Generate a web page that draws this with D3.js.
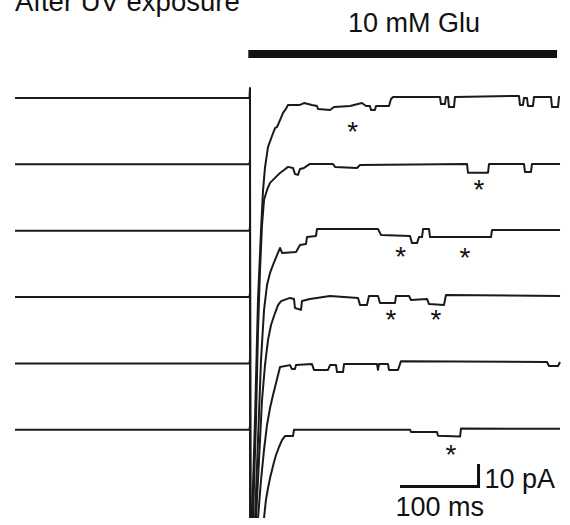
<!DOCTYPE html>
<html>
<head>
<meta charset="utf-8">
<title>After UV exposure</title>
<script src="https://cdn.jsdelivr.net/npm/d3@7"></script>
<style>
	body { margin: 0; background: #fff; }
	#chart { position: absolute; left: 0; top: 0; }
</style>
</head>
<body>
<svg id="chart" width="570" height="525"></svg>
<script>
// time in ms, current in pA (relative to each sweep's own baseline, inward = negative)
var trace1 = [[0,0],[304.5,0],[305.2,4.8],[305.8,-300],[307.8,-200],[311.7,-153],[315.6,-96],[319.5,-63],[322.1,-44],[324.7,-33],[328.6,-23.3],[333.8,-18.1],[337.7,-14.3],[340.3,-13.8],[344.2,-10.5],[348.1,-7.1],[351.9,-5.2],[354.5,-3.3],[370.1,-3.3],[375.3,-2.4],[385.7,-3.3],[392.2,-3.8],[393.5,-5.2],[409.1,-5.7],[414.3,-4.3],[435.1,-3.8],[450.6,-2.4],[455.8,-3.8],[461,-3.8],[462.3,-5.7],[467.5,-5.7],[468.8,-3.8],[485.7,-3.8],[488.3,-0.5],[490.9,0.5],[551.9,0.5],[553.2,-2.9],[558.4,-2.9],[559.7,0.5],[562.3,0.5],[563.6,-4.3],[570.1,-4.3],[571.4,0.5],[654.5,1],[655.8,-3.3],[659.7,-3.3],[661,0],[664.9,0],[666.2,-3.8],[672.7,-3.8],[674,0.5],[696.1,0.5],[697.4,-4.3],[705.2,-4.3],[706.5,0.5],[707.8,0.5]];
var trace2 = [[0,0],[304.5,0],[305.2,2],[305.8,-300],[309.1,-168.4],[313,-121.7],[315.6,-78.9],[318.2,-50.3],[320.8,-28.9],[323.4,-17],[327.3,-12.2],[331.2,-8.8],[335.1,-7.4],[340.3,-5.5],[344.2,-4.1],[349.4,-2.7],[354.5,-1.2],[361,-1.7],[363.6,-4.6],[367.5,-5],[370.1,-2.2],[375.3,-1.7],[383.1,0.2],[413,0.2],[415.6,-1.2],[444.2,-1.7],[448.1,-0.3],[587,0.2],[588.3,-4],[614.3,-4],[615.6,0.2],[661,0.2],[662.3,-3.6],[670.1,-3.6],[671.4,0.2],[707.8,0.2]];
var trace3 = [[0,0],[304.5,0],[305.2,2],[305.8,-300],[311.7,-136.8],[315.6,-99.7],[319.5,-61.6],[323.4,-37.8],[327.3,-25.9],[331.2,-20.1],[335.1,-16.3],[340.3,-11.6],[344.2,-8.2],[346.8,-10.6],[365,-10.1],[370.1,-6.8],[377.9,-6.3],[379.2,-3],[390.9,-2.5],[392.2,0.8],[471.4,0.8],[475.3,-2],[513,-2.5],[515.6,-5.9],[522.1,-5.9],[524.7,-3],[528.6,-3],[529.9,0.8],[537.7,0.8],[539,-3],[618.2,-3],[619.5,0.3],[707.8,0.3]];
var trace4 = [[0,0],[304.5,0],[305.2,2],[305.8,-300],[313,-105.2],[316.9,-77.6],[320.8,-49],[324.7,-32.3],[328.6,-20.4],[332.5,-13.3],[337.7,-7.6],[341.6,-3.8],[345.5,-1.9],[357.1,-0.4],[362.3,-0.9],[363.6,-5.2],[371.4,-6.1],[372.7,-1.9],[383.1,-0.9],[409.1,0.5],[445.5,-0.4],[448.1,-3.8],[457.1,-3.8],[459.7,0.5],[471.4,0.5],[474,-2.8],[493.5,-2.8],[494.8,0.5],[511.7,0.5],[514.3,-1.4],[535.1,-0.9],[537.7,-3.3],[557.1,-3.8],[559.7,1],[707.8,0.5]];
var trace5 = [[0,0],[304.5,0],[305.2,2],[305.8,-300],[315.6,-73.6],[319.5,-55.5],[323.4,-41.2],[327.3,-29.3],[331.2,-21.2],[335.1,-15],[339,-9.3],[341.6,-5.5],[344.2,-1.7],[357.1,-0.8],[359.7,-2.7],[363.6,-2.7],[364.9,-0.8],[385.7,-0.3],[388.3,-3.1],[406.5,-3.1],[409.1,-0.8],[416.9,-0.8],[418.2,-4.1],[426,-4.1],[427.3,-0.3],[470.1,-0.3],[471.4,-3.1],[472.7,-0.3],[484.4,-0.3],[485.7,-3.1],[497.4,-3.1],[501.3,1.1],[690.9,0.7],[693.5,-1.2],[705.2,-1.2],[707.8,0.7]];
var trace6 = [[0,0],[304.5,0],[305.2,2],[305.8,-300],[323.4,-42],[325.9,-33.4],[328.6,-27.7],[331.2,-23],[333.8,-19.1],[336.4,-15.3],[339,-12],[342.9,-8.2],[346.8,-4.9],[350.6,-3],[361,-3],[362.3,0],[513,0],[514.3,-1],[548,-1],[549.4,-2.8],[578,-3.2],[579.2,0.6],[707.8,0.5]];
var traces = [trace1, trace2, trace3, trace4, trace5, trace6];

// sweeps are stacked, each one shifted down by this many pA
var sweepShift = 31.6;
// glutamate application, ms
var gluOn = [303, 704];
// asterisks: [sweep, ms, pA below that sweep's baseline]
var stars = [[0,438.6,-12.9],[1,602.6,-9],[2,500.9,-9.4],[2,584.4,-9.9],[3,488.3,-7.6],[3,546.8,-7.6],[5,566.2,-8.9]];
// scale bar, [ms, pA]
var scaleBar = [100, 10];
var scaleBarAt = [502, -185];
var labels = {
	title: "After UV exposure",
	glu: "10 mM Glu",
	time: "100 ms",
	amp: "10 pA"
};

(function() {
	function figure(){
		this.init();
	}
	figure.prototype = {
		constructor: figure,
		selector: "#chart",
		font: "'Liberation Sans', Arial, Helvetica, sans-serif",
		init: function(){
			this.svg = d3.select(this.selector);
			this.x = d3.scaleLinear().domain([0, 708]).range([15, 15 + 708 * 0.77]);
			this.y = d3.scaleLinear().domain([0, -10]).range([98, 119]);
			this.drawTraces();
			this.drawGlu();
			this.drawStars();
			this.drawScaleBar();
			this.drawTitle();
		},
		drawTraces: function(){
			var that = this;
			// the inward peaks run off the bottom of the panel
			this.svg.append("clipPath").attr("id", "clipTraces")
				.append("rect")
				.attr("x", 0).attr("y", 0)
				.attr("width", 570).attr("height", 518);
			this.svg.append("g")
				.attr("clip-path", "url(#clipTraces)")
				.selectAll("path")
				.data(traces)
				.join("path")
				.attr("fill", "none")
				.attr("stroke", "#1a1a1a")
				.attr("stroke-width", 2)
				.attr("stroke-linejoin", "round")
				.attr("d", function(d, i){
					return d3.line()
						.x(function(p){ return that.x(p[0]); })
						.y(function(p){ return that.y(p[1] - i * sweepShift); })(d);
				});
		},
		drawGlu: function(){
			this.svg.append("rect")
				.attr("x", this.x(gluOn[0]))
				.attr("y", 50)
				.attr("width", this.x(gluOn[1]) - this.x(gluOn[0]))
				.attr("height", 8)
				.attr("fill", "#111");
			this.svg.append("text")
				.attr("x", 414)
				.attr("y", 32)
				.attr("text-anchor", "middle")
				.attr("font-family", this.font)
				.attr("font-size", 27)
				.attr("fill", "#111")
				.text(labels.glu);
		},
		drawStars: function(){
			var that = this;
			this.svg.append("g")
				.selectAll("text")
				.data(stars)
				.join("text")
				.attr("x", function(d){ return that.x(d[1]); })
				.attr("y", function(d){ return that.y(d[2] - d[0] * sweepShift) + 15.5; })
				.attr("text-anchor", "middle")
				.attr("font-family", this.font)
				.attr("font-size", 28)
				.attr("fill", "#111")
				.text("*");
		},
		drawScaleBar: function(){
			var x0 = this.x(scaleBarAt[0]),
				x1 = this.x(scaleBarAt[0] + scaleBar[0]),
				y0 = this.y(scaleBarAt[1]),
				y1 = this.y(scaleBarAt[1] + scaleBar[1]);
			this.svg.append("path")
				.attr("d", "M" + x0 + "," + y0 + "H" + x1 + "V" + y1)
				.attr("fill", "none")
				.attr("stroke", "#111")
				.attr("stroke-width", 3)
				.attr("stroke-linecap", "square");
			this.svg.append("text")
				.attr("x", x1 + 6)
				.attr("y", y0 + 1)
				.attr("font-family", this.font)
				.attr("font-size", 27)
				.attr("fill", "#111")
				.text(labels.amp);
			this.svg.append("text")
				.attr("x", x0 - 6)
				.attr("y", y0 + 29)
				.attr("font-family", this.font)
				.attr("font-size", 27)
				.attr("fill", "#111")
				.text(labels.time);
		},
		drawTitle: function(){
			// top of the title is cut off in the source figure
			this.svg.append("text")
				.attr("x", 15)
				.attr("y", 11)
				.attr("font-family", this.font)
				.attr("font-size", 27.5)
				.attr("fill", "#111")
				.text(labels.title);
		}
	};

	new figure();
})();
</script>
</body>
</html>
